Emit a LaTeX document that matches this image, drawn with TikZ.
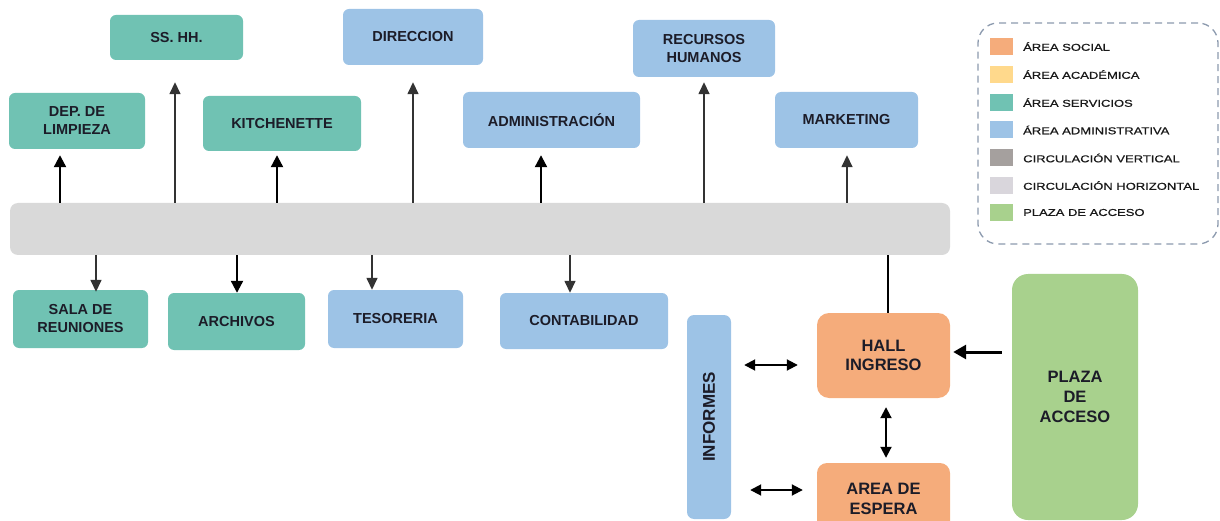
\documentclass[tikz,border=0pt]{standalone}
\usepackage{fontspec}
\setmainfont{Liberation Sans}
\newfontfamily\legfont[FakeStretch=1.3,FakeBold=0.7]{Liberation Sans}
\usetikzlibrary{arrows.meta}
\definecolor{teal1}{HTML}{70C2B3}
\definecolor{blue1}{HTML}{9DC3E6}
\definecolor{orange1}{HTML}{F5AC7B}
\definecolor{yellow1}{HTML}{FFD98C}
\definecolor{grayv}{HTML}{A5A09E}
\definecolor{grayh}{HTML}{D9D6DC}
\definecolor{green1}{HTML}{A8D18D}
\definecolor{bar1}{HTML}{D9D9D9}
\definecolor{txt}{HTML}{1C1C28}
\definecolor{legline}{HTML}{8C9AAE}
\tikzset{
  box/.style={rounded corners=6pt, inner sep=0pt, align=center, text=txt,
    font=\bfseries\fontsize{14.5}{18}\selectfont},
  serv/.style={box, fill=teal1},
  admn/.style={box, fill=blue1},
  soc/.style={box, fill=orange1, font=\bfseries\fontsize{16.5}{19.5}\selectfont},
  arr/.style={line width=2.2pt, -{Triangle[length=12pt,width=12pt]}},
  larr/.style={line width=1.5pt, draw=black!80, -{Triangle[length=12pt,width=11pt]}},
  darr/.style={line width=1.9pt, {Triangle[length=11pt,width=11pt]}-{Triangle[length=11pt,width=11pt]}},
  sw/.style={minimum width=23pt, minimum height=17pt, inner sep=0pt},
  legtext/.style={anchor=west, inner sep=0pt, text=black!90, font=\legfont\fontsize{10}{12}\selectfont},
}
\begin{document}
\begin{tikzpicture}[x=1pt,y=-1pt]
\useasboundingbox (0,0) rectangle (1220,521);
\clip (0,0) rectangle (1220,521);
% corridor
\node[fill=bar1, rounded corners=8pt, minimum width=940pt, minimum height=52pt, inner sep=0pt] (bar) at (480,229) {};
% top boxes
\node[serv, minimum width=136pt, minimum height=56pt] (limp) at (77,121) {DEP. DE\\LIMPIEZA};
\node[serv, minimum width=133pt, minimum height=45pt] (sshh) at (176.5,37.5) {SS. HH.};
\node[serv, minimum width=158pt, minimum height=55pt] (kitch) at (282,123.5) {KITCHENETTE};
\node[admn, minimum width=140pt, minimum height=56pt] (dir) at (413,37) {DIRECCION};
\node[admn, minimum width=177pt, minimum height=56pt] (admin) at (551.5,120) {ADMINISTRACIÓN};
\node[admn, minimum width=142pt, minimum height=57pt] (rrhh) at (704,48.5) {RECURSOS\\HUMANOS};
\node[admn, minimum width=143pt, minimum height=56pt] (mkt) at (846.5,120) {MARKETING};
% bottom boxes
\node[serv, minimum width=135pt, minimum height=58pt] (sala) at (80.5,319) {SALA DE\\REUNIONES};
\node[serv, minimum width=137pt, minimum height=57pt] (arch) at (236.5,321.5) {ARCHIVOS};
\node[admn, minimum width=135pt, minimum height=58pt] (teso) at (395.5,319) {TESORERIA};
\node[admn, minimum width=168pt, minimum height=56pt] (conta) at (584,321) {CONTABILIDAD};
% right group
\node[admn, minimum width=44pt, minimum height=204pt, rounded corners=7pt] (info) at (709,417) {};
\node[rotate=90, text=txt, font=\bfseries\fontsize{17}{20}\selectfont, inner sep=0pt] (infot) at (info.center) {INFORMES};
\node[soc, minimum width=133pt, minimum height=85pt, rounded corners=12pt] (hall) at (883.5,355.5) {HALL\\INGRESO};
\node[soc, minimum width=133pt, minimum height=72pt, rounded corners=10pt] (esp) at (883.5,499) {AREA DE\\ESPERA};
\node[box, fill=green1, minimum width=126pt, minimum height=246pt, rounded corners=16pt, font=\bfseries\fontsize{16.5}{20}\selectfont] (plaza) at (1075,397) {PLAZA\\DE\\ACCESO};
% arrows up
\draw[arr, shorten >=6pt] (60,0 |- bar.north) -- (60,0 |- limp.south);
\draw[larr, shorten >=22pt] (175,0 |- bar.north) -- (175,0 |- sshh.south);
\draw[arr, shorten >=4pt] (277,0 |- bar.north) -- (277,0 |- kitch.south);
\draw[larr, shorten >=17pt] (413,0 |- bar.north) -- (413,0 |- dir.south);
\draw[arr, shorten >=7pt] (541,0 |- bar.north) -- (541,0 |- admin.south);
\draw[larr, shorten >=5pt] (704,0 |- bar.north) -- (704,0 |- rrhh.south);
\draw[larr, shorten >=7pt] (847,0 |- bar.north) -- (847,0 |- mkt.south);
% arrows down
\draw[larr, shorten >=-2pt] (96,0 |- bar.south) -- (96,0 |- sala.north);
\draw[arr] (237,0 |- bar.south) -- (237,0 |- arch.north);
\draw[larr] (372,0 |- bar.south) -- (372,0 |- teso.north);
\draw[larr] (570,0 |- bar.south) -- (570,0 |- conta.north);
% hall link
\draw[line width=1.8pt] (888,0 |- bar.south) -- (888,0 |- hall.north);
% double arrows
\draw[darr, shorten <=13pt, shorten >=19pt] (info.east |- 0,365) -- (hall.west |- 0,365);
\draw[darr, shorten <=19pt, shorten >=14pt] (info.east |- 0,490) -- (esp.west |- 0,490);
\draw[darr, shorten <=9pt, shorten >=5pt] (886,0 |- hall.south) -- (886,0 |- esp.north);
\draw[line width=3pt, -{Triangle[length=13pt,width=14pt]}, shorten <=10pt, shorten >=3pt] (plaza.west |- 0,352) -- (hall.east |- 0,352);
% legend
\node[draw=legline, line width=1.3pt, dash pattern=on 7pt off 5pt, rounded corners=20pt, minimum width=240pt, minimum height=221pt, inner sep=0pt] (leg) at (1098,133.5) {};
\node[sw, fill=orange1] (s1) at (1001.5,46.5) {};
\node[sw, fill=yellow1] (s2) at (1001.5,74.5) {};
\node[sw, fill=teal1] (s3) at (1001.5,102.5) {};
\node[sw, fill=blue1] (s4) at (1001.5,130) {};
\node[sw, fill=grayv] (s5) at (1001.5,158) {};
\node[sw, fill=grayh] (s6) at (1001.5,185.5) {};
\node[sw, fill=green1] (s7) at (1001.5,212.5) {};
\node[legtext] (l1) at (1023,46.5) {ÁREA SOCIAL};
\node[legtext] (l2) at (1023,74.5) {ÁREA ACADÉMICA};
\node[legtext] (l3) at (1023,102.5) {ÁREA SERVICIOS};
\node[legtext] (l4) at (1023,130) {ÁREA ADMINISTRATIVA};
\node[legtext] (l5) at (1023,158) {CIRCULACIÓN VERTICAL};
\node[legtext] (l6) at (1023,185.5) {CIRCULACIÓN HORIZONTAL};
\node[legtext] (l7) at (1023,212.5) {PLAZA DE ACCESO};
\end{tikzpicture}
\end{document}
